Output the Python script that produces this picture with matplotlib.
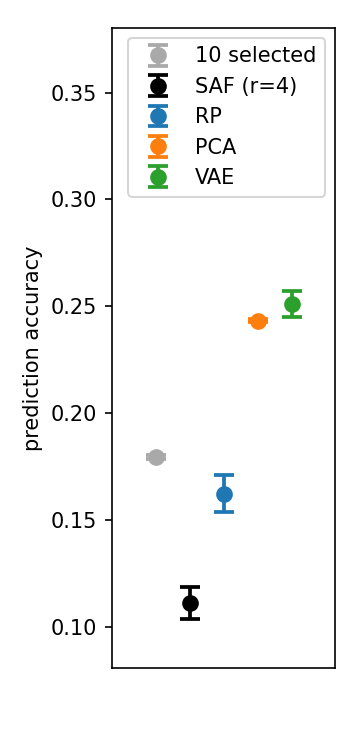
import matplotlib
matplotlib.use("Agg")
import matplotlib.pyplot as plt

labels = ["10 selected", "SAF (r=4)", "RP", "PCA", "VAE"]
colors = ["darkgray", "black", "tab:blue", "tab:orange", "tab:green"]
means = [0.1795, 0.1112, 0.1625, 0.2433, 0.2512]
errs = [0.0008, 0.0075, 0.0085, 0.0008, 0.0060]

fig = plt.figure(figsize=(2.4, 5), dpi=150)
ax = fig.add_axes([0.311, 0.109, 0.62, 0.854])
for i, (lab, c, m, e) in enumerate(zip(labels, colors, means, errs)):
    ax.errorbar(i, m, yerr=e, fmt="o", color=c, capsize=5, markersize=7,
                elinewidth=1.8, capthick=1.8, label=lab)

ax.set_xlim(-1.3, 5.27)
ax.set_ylim(0.0808, 0.3803)
ax.set_xticks([])
ax.set_ylabel("prediction accuracy")
ax.legend(loc="upper right")
plt.savefig("out.png")
